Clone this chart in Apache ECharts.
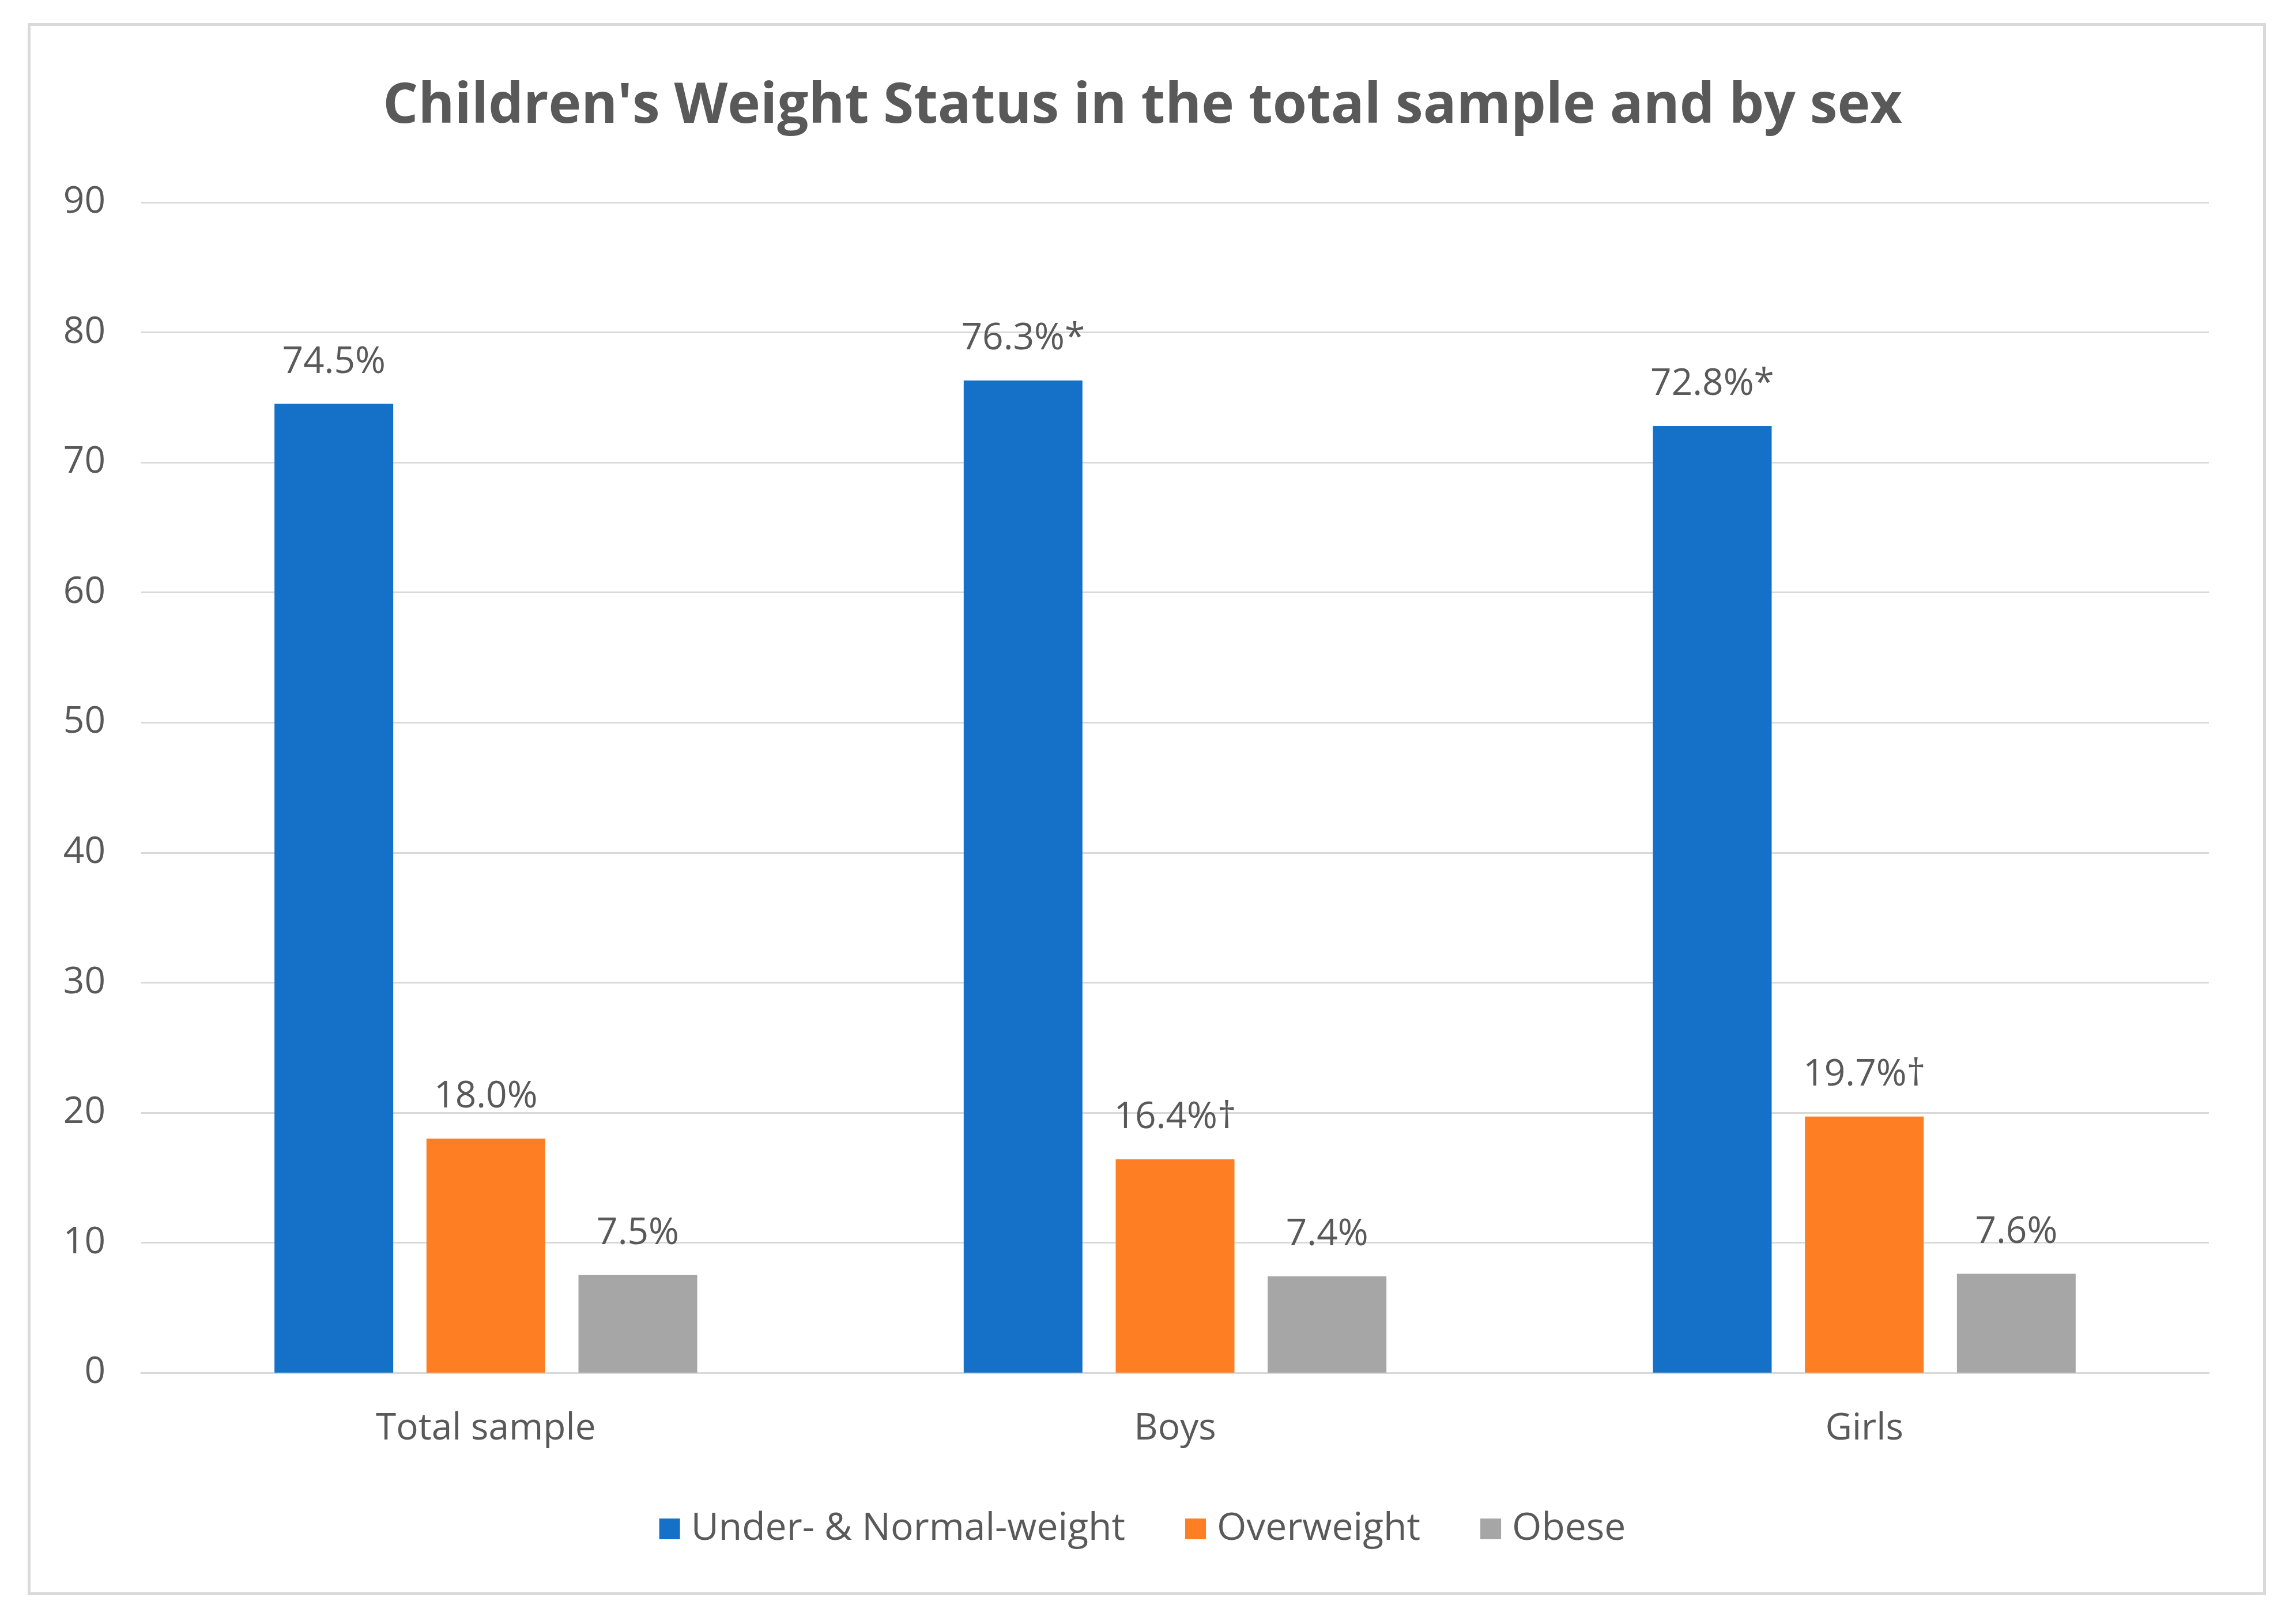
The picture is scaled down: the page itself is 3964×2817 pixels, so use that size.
<!DOCTYPE html>
<html>
<head>
<meta charset="utf-8">
<script src="https://cdn.jsdelivr.net/npm/echarts@6/dist/echarts.min.js"></script>
<style>
html,body{margin:0;padding:0;background:#fff;}
#chart{width:3964px;height:2817px;}
</style>
</head>
<body>
<div id="chart"></div>
<script>
const categories = ["Total sample", "Boys", "Girls"];
const seriesNames = ["Under- & Normal-weight", "Overweight", "Obese"];
const normalWeight = [74.5, 76.3, 72.8];
const overweight = [18.0, 16.4, 19.7];
const obese = [7.5, 7.4, 7.6];
const normalMarks = ["", "*", "*"];
const overMarks = ["", "†", "†"];
const obeseMarks = ["", "", ""];
const yTicks = [0, 10, 20, 30, 40, 50, 60, 70, 80, 90];

const colors = ["#1571c8", "#fd7e23", "#a6a6a6"];
const textColor = "#595959";
const fontFam = "'Open Sans', 'Noto Sans', sans-serif";

function mk(name, data, marks, color) {
  return {
    name: name,
    type: "bar",
    data: data,
    barWidth: 206,
    barGap: "28%",
    itemStyle: { color: color },
    label: {
      show: true,
      position: "top",
      distance: 40,
      color: textColor,
      fontFamily: fontFam,
      fontSize: 64,
      formatter: p => p.value.toFixed(1) + "%" + marks[p.dataIndex]
    }
  };
}

const chart = echarts.init(document.getElementById("chart"), null, { renderer: "canvas" });
chart.setOption({
  backgroundColor: "#fff",
  animation: false,
  title: {
    text: "Children's Weight Status in the total sample and by sex",
    left: "center",
    top: 133,
    textStyle: { color: textColor, fontFamily: fontFam, fontSize: 96, fontWeight: 700 }
  },
  graphic: [{
    type: "rect",
    left: 48, top: 40,
    shape: { width: 3878, height: 2722 },
    style: { fill: "none", stroke: "#d9d9d9", lineWidth: 5 },
    silent: true
  }],
  legend: {
    bottom: 127,
    left: "center",
    itemWidth: 36,
    itemHeight: 36,
    itemGap: 104,
    icon: "rect",
    textStyle: { color: textColor, fontFamily: fontFam, fontSize: 66, padding: [0, 0, 0, 14] },
    data: seriesNames
  },
  grid: { left: 245, right: 132, top: 351, bottom: 436, containLabel: false },
  xAxis: {
    type: "category",
    data: categories,
    axisLine: { show: true, lineStyle: { color: "#d9d9d9", width: 3 } },
    axisTick: { show: false },
    axisLabel: { color: textColor, fontFamily: fontFam, fontSize: 64, margin: 66 }
  },
  yAxis: {
    type: "value",
    min: yTicks[0],
    max: yTicks[yTicks.length - 1],
    interval: 10,
    axisLine: { show: false },
    axisTick: { show: false },
    splitLine: { lineStyle: { color: "#d9d9d9", width: 3 } },
    axisLabel: { color: textColor, fontFamily: fontFam, fontSize: 64, margin: 62 }
  },
  series: [
    mk(seriesNames[0], normalWeight, normalMarks, colors[0]),
    mk(seriesNames[1], overweight, overMarks, colors[1]),
    mk(seriesNames[2], obese, obeseMarks, colors[2])
  ]
});
</script>
</body>
</html>
